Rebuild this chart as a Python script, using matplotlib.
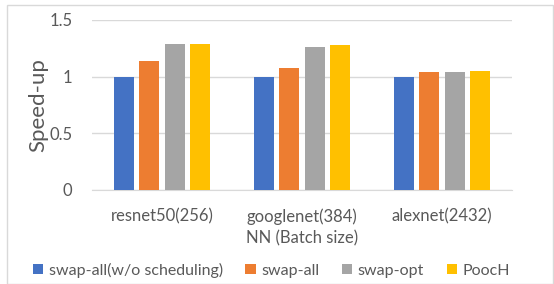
import numpy as np
import matplotlib.pyplot as plt
from matplotlib.patches import Rectangle

categories = ["resnet50(256)", "googlenet(384)", "alexnet(2432)"]
series_names = ["swap-all(w/o scheduling)", "swap-all", "swap-opt", "PoocH"]
swap_all_nosched = [1.0, 1.0, 1.0]
swap_all = [1.14, 1.077, 1.041]
swap_opt = [1.285, 1.265, 1.038]
pooch = [1.285, 1.277, 1.047]
colors = ["#4472C4", "#ED7D31", "#A5A5A5", "#FFC000"]

plt.rcParams["font.family"] = ["Lato", "DejaVu Sans"]

fig = plt.figure(figsize=(5.54, 2.84), dpi=100)
ax = fig.add_axes([92 / 554, 1 - 190 / 284, 420 / 554, 170 / 284])

x = np.arange(len(categories))
width = 20 / 140
step = 25.3 / 140
values = [swap_all_nosched, swap_all, swap_opt, pooch]
for i, (name, vals, c) in enumerate(zip(series_names, values, colors)):
    ax.bar(x + (i - 1.5) * step, vals, width, color=c, label=name, zorder=3)

ax.set_xlim(-0.5, 2.5)
ax.set_ylim(0, 1.5)
ax.set_yticks([0, 0.5, 1, 1.5])
ax.set_yticklabels(["0", "0.5", "1", "1.5"])
ax.set_xticks(x)
ax.set_xticklabels(categories)
ax.grid(axis="y", color="#D9D9D9", linewidth=1, zorder=0)
for s in ["top", "right", "left"]:
    ax.spines[s].set_visible(False)
ax.spines["bottom"].set_color("#D9D9D9")
ax.tick_params(axis="both", length=0, colors="#595959", labelsize=12)
ax.tick_params(axis="y", pad=14)
ax.tick_params(axis="x", pad=13)
ax.set_ylabel("Speed-up", fontsize=16, color="#595959", labelpad=1)
ax.set_xlabel("NN (Batch size)", fontsize=12, color="#595959", labelpad=4)

leg = fig.legend(loc="center", bbox_to_anchor=(0.49, 1 - 270 / 284), ncol=4,
                 frameon=False, fontsize=11.5, handlelength=0.65, handleheight=0.65,
                 handletextpad=0.35, columnspacing=1.4, labelcolor="#595959")

fig.patches.append(Rectangle((7 / 554, 0), 1 - 8 / 554, 1 - 5 / 284,
                             transform=fig.transFigure, fill=False,
                             edgecolor="#D9D9D9", linewidth=1))

fig.savefig("out.png", dpi=100)
